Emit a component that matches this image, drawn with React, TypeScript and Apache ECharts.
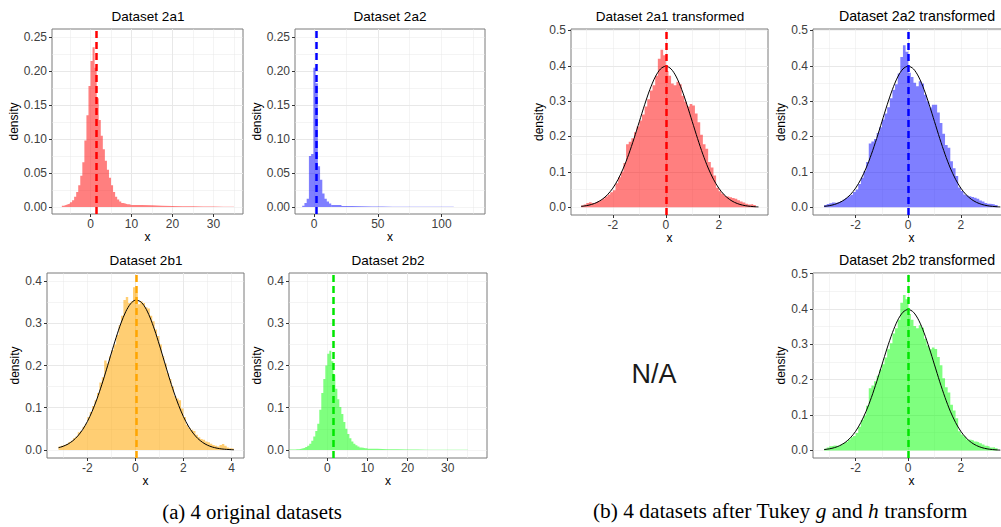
import React, { useEffect, useRef } from "react";
import * as echarts from "echarts";

const SANS = "'Liberation Sans', Arial, sans-serif";
const SERIF = "'Liberation Serif', 'Times New Roman', serif";

// ---------------- data ----------------
// Dataset 2a1 (bins of 0.5 from -7, tail bins of 2.5 from 10)
const hist2a1Start = -7;
const hist2a1Width = 0.5;
const hist2a1 = [
  0.002, 0.003, 0.004, 0.005, 0.007, 0.010, 0.015, 0.022, 0.032, 0.046,
  0.066, 0.098, 0.135, 0.178, 0.215, 0.235, 0.205, 0.160, 0.128, 0.105,
  0.085, 0.068, 0.055, 0.043, 0.032, 0.022, 0.015, 0.011, 0.008, 0.006,
  0.005, 0.004, 0.004, 0.003,
];
const tail2a1Start = 10;
const tail2a1Width = 2.5;
const tail2a1 = [0.003, 0.0025, 0.002, 0.0015, 0.0012, 0.001, 0.0008, 0.0006, 0.0005, 0.0004];
const mean2a1 = 1.37;

// Dataset 2a2
const hist2a2Start = -9.25;
const hist2a2Width = 1.75;
const hist2a2 = [0.002, 0.006, 0.012, 0.075, 0.078, 0.205, 0.182, 0.06, 0.04, 0.02, 0.012, 0.008, 0.005];
const tail2a2Start = 13.5;
const tail2a2Width = 8;
const tail2a2 = [0.003, 0.0015, 0.001, 0.0008, 0.0006, 0.0005, 0.0004, 0.0003, 0.0003, 0.0002, 0.0002, 0.0002];
const mean2a2 = 1.6;

// Dataset 2b1
const hist2b1Start = -3.2;
const hist2b1Width = 0.1;
const hist2b1 = [
  0.008, 0.010, 0.012, 0.014, 0.018, 0.022, 0.028, 0.032, 0.042, 0.045,
  0.055, 0.062, 0.078, 0.090, 0.104, 0.118, 0.135, 0.160, 0.172, 0.212,
  0.205, 0.222, 0.236, 0.250, 0.272, 0.295, 0.318, 0.355, 0.362, 0.348,
  0.352, 0.385, 0.372, 0.345, 0.352, 0.348, 0.338, 0.335, 0.318, 0.305,
  0.285, 0.270, 0.250, 0.222, 0.205, 0.182, 0.168, 0.150, 0.128, 0.122,
  0.118, 0.098, 0.078, 0.060, 0.052, 0.048, 0.045, 0.036, 0.030, 0.026,
  0.024, 0.020, 0.018, 0.015, 0.012, 0.010, 0.008, 0.012, 0.014, 0.010,
  0.006, 0.004, 0.003,
];
const mean2b1 = 0.02;
const curve2b1X = [
  -3.2, -3.0, -2.8, -2.6, -2.4, -2.2, -2.0, -1.8, -1.6, -1.4, -1.2, -1.0, -0.8, -0.6, -0.4, -0.2, 0.0,
  0.2, 0.4, 0.6, 0.8, 1.0, 1.2, 1.4, 1.6, 1.8, 2.0, 2.2, 2.4, 2.6, 2.8, 3.0, 3.2, 3.4, 3.6, 3.8, 4.0, 4.1,
];
const curve2b1Y = [
  0.0054, 0.0089, 0.0142, 0.022, 0.033, 0.0479, 0.0673, 0.0916, 0.1209, 0.1545, 0.1913, 0.2295, 0.2667,
  0.3004, 0.3277, 0.3463, 0.3546, 0.3518, 0.3382, 0.3149, 0.2841, 0.2484, 0.2104, 0.1726, 0.1372, 0.1056,
  0.0788, 0.0569, 0.0399, 0.027, 0.0178, 0.0113, 0.007, 0.0042, 0.0024, 0.0014, 0.0007, 0.0005,
];

// Dataset 2b2
const hist2b2Start = -9.5;
const hist2b2Width = 0.5;
const hist2b2 = [
  0.001, 0.001, 0.001, 0.002, 0.002, 0.003, 0.004, 0.005, 0.007, 0.010,
  0.015, 0.022, 0.032, 0.045, 0.062, 0.095, 0.135, 0.168, 0.200, 0.228,
  0.235, 0.210, 0.178, 0.145, 0.120, 0.102, 0.085, 0.066, 0.050, 0.038,
  0.028, 0.020, 0.015, 0.011, 0.008, 0.006, 0.005, 0.004, 0.004,
];
const tail2b2Start = 10;
const tail2b2Width = 2.5;
const tail2b2 = [0.003, 0.002, 0.0015, 0.0012, 0.001, 0.0008, 0.0006, 0.0005, 0.0004, 0.0003];
const mean2b2 = 1.5;

// Transformed datasets (bins of 0.1 from -3.2)
const histTStart = -3.2;
const histTWidth = 0.1;
const hist2a1T = [
  0.005, 0.008, 0.012, 0.014, 0.012, 0.013, 0.016, 0.020, 0.025, 0.030,
  0.036, 0.042, 0.048, 0.068, 0.085, 0.100, 0.125, 0.178, 0.185, 0.195,
  0.212, 0.228, 0.245, 0.262, 0.285, 0.305, 0.330, 0.345, 0.372, 0.420,
  0.445, 0.430, 0.385, 0.372, 0.350, 0.345, 0.355, 0.348, 0.315, 0.298,
  0.285, 0.292, 0.288, 0.265, 0.240, 0.205, 0.178, 0.165, 0.128, 0.112,
  0.090, 0.055, 0.045, 0.038, 0.032, 0.030, 0.028, 0.026, 0.024, 0.020,
  0.016, 0.013, 0.010, 0.008, 0.009, 0.006,
];
const hist2a2T = [
  0.006, 0.009, 0.011, 0.013, 0.012, 0.014, 0.017, 0.021, 0.026, 0.031,
  0.035, 0.043, 0.050, 0.066, 0.083, 0.102, 0.128, 0.180, 0.186, 0.193,
  0.210, 0.226, 0.248, 0.265, 0.283, 0.308, 0.332, 0.348, 0.378, 0.425,
  0.458, 0.440, 0.380, 0.368, 0.352, 0.342, 0.356, 0.350, 0.318, 0.300,
  0.282, 0.290, 0.290, 0.268, 0.238, 0.208, 0.176, 0.168, 0.130, 0.110,
  0.088, 0.056, 0.046, 0.036, 0.033, 0.031, 0.029, 0.027, 0.024, 0.019,
  0.016, 0.012, 0.010, 0.009, 0.008, 0.006,
];
const hist2b2T = [
  0.005, 0.008, 0.012, 0.014, 0.013, 0.012, 0.016, 0.021, 0.024, 0.030,
  0.037, 0.041, 0.049, 0.067, 0.086, 0.099, 0.126, 0.176, 0.184, 0.196,
  0.211, 0.229, 0.244, 0.263, 0.286, 0.303, 0.331, 0.346, 0.370, 0.418,
  0.440, 0.428, 0.386, 0.370, 0.352, 0.346, 0.354, 0.347, 0.316, 0.297,
  0.286, 0.291, 0.287, 0.264, 0.241, 0.204, 0.179, 0.164, 0.129, 0.113,
  0.091, 0.054, 0.045, 0.039, 0.031, 0.030, 0.028, 0.025, 0.023, 0.020,
  0.017, 0.013, 0.011, 0.008, 0.009, 0.006,
];
const meanT = 0;
const stdNormX = [
  -3.2, -3.0, -2.8, -2.6, -2.4, -2.2, -2.0, -1.8, -1.6, -1.4, -1.2, -1.0, -0.8, -0.6, -0.4, -0.2, 0,
  0.2, 0.4, 0.6, 0.8, 1.0, 1.2, 1.4, 1.6, 1.8, 2.0, 2.2, 2.4, 2.6, 2.8, 3.0, 3.2, 3.4, 3.5,
];
const stdNormY = [
  0.0024, 0.0044, 0.0079, 0.0136, 0.0224, 0.0355, 0.054, 0.079, 0.1109, 0.1497, 0.1942, 0.242, 0.2897,
  0.3332, 0.3683, 0.391, 0.3989, 0.391, 0.3683, 0.3332, 0.2897, 0.242, 0.1942, 0.1497, 0.1109, 0.079,
  0.054, 0.0355, 0.0224, 0.0136, 0.0079, 0.0044, 0.0024, 0.0012, 0.0009,
];

const ticksX2a = [0, 10, 20, 30];
const ticksX2a2 = [0, 50, 100];
const ticksX2b1 = [-2, 0, 2, 4];
const ticksXT = [-2, 0, 2];
const ticksY025 = [0, 0.05, 0.1, 0.15, 0.2, 0.25];
const ticksY04 = [0, 0.1, 0.2, 0.3, 0.4];
const ticksY05 = [0, 0.1, 0.2, 0.3, 0.4, 0.5];

// ---------------- layout ----------------
type Hist = { start: number; width: number; dens: number[] };
type PanelCfg = {
  title: string;
  titleX: number;
  titleY: number;
  titleSize: number;
  grid: { left: number; top: number; width: number; height: number };
  xRange: [number, number];
  xMajor: number;
  xMinor: number;
  xTicks: number[];
  yRange: [number, number];
  yMajor: number;
  yMinor: number;
  yTicks: number[];
  yDigits: number;
  yNameGap: number;
  xNameGap: number;
  hists: Hist[];
  fill: string;
  lineColor: string;
  mean: number;
  curveX?: number[];
  curveY?: number[];
};

const panels: PanelCfg[] = [
  {
    title: "Dataset 2a1", titleX: 148, titleY: 16, titleSize: 13.5,
    grid: { left: 52, top: 29, width: 191, height: 185 },
    xRange: [-9.4, 37.2], xMajor: 10, xMinor: 5, xTicks: ticksX2a,
    yRange: [-0.0103, 0.262], yMajor: 0.05, yMinor: 0.025, yTicks: ticksY025, yDigits: 2,
    yNameGap: 28, xNameGap: 16,
    hists: [
      { start: hist2a1Start, width: hist2a1Width, dens: hist2a1 },
      { start: tail2a1Start, width: tail2a1Width, dens: tail2a1 },
    ],
    fill: "rgba(255,0,0,0.5)", lineColor: "#ff0000", mean: mean2a1,
  },
  {
    title: "Dataset 2a2", titleX: 390, titleY: 16, titleSize: 13.5,
    grid: { left: 295, top: 29, width: 190, height: 185 },
    xRange: [-14.9, 134], xMajor: 50, xMinor: 25, xTicks: ticksX2a2,
    yRange: [-0.0103, 0.262], yMajor: 0.05, yMinor: 0.025, yTicks: ticksY025, yDigits: 2,
    yNameGap: 28, xNameGap: 16,
    hists: [
      { start: hist2a2Start, width: hist2a2Width, dens: hist2a2 },
      { start: tail2a2Start, width: tail2a2Width, dens: tail2a2 },
    ],
    fill: "rgba(0,0,255,0.5)", lineColor: "#0000ff", mean: mean2a2,
  },
  {
    title: "Dataset 2b1", titleX: 146, titleY: 260, titleSize: 13.5,
    grid: { left: 47, top: 273, width: 197, height: 185 },
    xRange: [-3.68, 4.52], xMajor: 2, xMinor: 1, xTicks: ticksX2b1,
    yRange: [-0.019, 0.419], yMajor: 0.1, yMinor: 0.05, yTicks: ticksY04, yDigits: 1,
    yNameGap: 22, xNameGap: 17,
    hists: [{ start: hist2b1Start, width: hist2b1Width, dens: hist2b1 }],
    fill: "rgba(255,165,0,0.55)", lineColor: "#ffa500", mean: mean2b1,
    curveX: curve2b1X, curveY: curve2b1Y,
  },
  {
    title: "Dataset 2b2", titleX: 388, titleY: 260, titleSize: 13.5,
    grid: { left: 289, top: 273, width: 198, height: 185 },
    xRange: [-9.55, 39.8], xMajor: 10, xMinor: 5, xTicks: ticksX2a,
    yRange: [-0.019, 0.419], yMajor: 0.1, yMinor: 0.05, yTicks: ticksY04, yDigits: 1,
    yNameGap: 22, xNameGap: 17,
    hists: [
      { start: hist2b2Start, width: hist2b2Width, dens: hist2b2 },
      { start: tail2b2Start, width: tail2b2Width, dens: tail2b2 },
    ],
    fill: "rgba(0,255,0,0.5)", lineColor: "#00e600", mean: mean2b2,
  },
  {
    title: "Dataset 2a1 transformed", titleX: 670, titleY: 16, titleSize: 13.5,
    grid: { left: 571, top: 29, width: 197, height: 186 },
    xRange: [-3.58, 3.86], xMajor: 2, xMinor: 1, xTicks: ticksXT,
    yRange: [-0.022, 0.504], yMajor: 0.1, yMinor: 0.05, yTicks: ticksY05, yDigits: 1,
    yNameGap: 22, xNameGap: 16,
    hists: [{ start: histTStart, width: histTWidth, dens: hist2a1T }],
    fill: "rgba(255,0,0,0.5)", lineColor: "#ff0000", mean: meanT,
    curveX: stdNormX, curveY: stdNormY,
  },
  {
    title: "Dataset 2a2 transformed", titleX: 917, titleY: 16, titleSize: 14.2,
    grid: { left: 813, top: 29, width: 197, height: 186 },
    xRange: [-3.62, 3.87], xMajor: 2, xMinor: 1, xTicks: ticksXT,
    yRange: [-0.022, 0.504], yMajor: 0.1, yMinor: 0.05, yTicks: ticksY05, yDigits: 1,
    yNameGap: 21, xNameGap: 16,
    hists: [{ start: histTStart, width: histTWidth, dens: hist2a2T }],
    fill: "rgba(0,0,255,0.5)", lineColor: "#0000ff", mean: meanT,
    curveX: stdNormX, curveY: stdNormY,
  },
  {
    title: "Dataset 2b2 transformed", titleX: 917, titleY: 260, titleSize: 14.2,
    grid: { left: 813, top: 273, width: 197, height: 185 },
    xRange: [-3.62, 3.87], xMajor: 2, xMinor: 1, xTicks: ticksXT,
    yRange: [-0.0215, 0.502], yMajor: 0.1, yMinor: 0.05, yTicks: ticksY05, yDigits: 1,
    yNameGap: 21, xNameGap: 16,
    hists: [{ start: histTStart, width: histTWidth, dens: hist2b2T }],
    fill: "rgba(0,255,0,0.5)", lineColor: "#00e600", mean: meanT,
    curveX: stdNormX, curveY: stdNormY,
  },
];

function histPoints(h: Hist): number[][] {
  const pts: number[][] = h.dens.map((d, i) => [h.start + i * h.width, d]);
  pts.push([h.start + h.dens.length * h.width, h.dens[h.dens.length - 1]]);
  return pts;
}

const GRID_COLOR = "#e8e8e8";
const TICK_TEXT = { fontFamily: SANS, fontSize: 12, color: "#404040" };

function buildOption(): any {
  const grid: any[] = [];
  const xAxis: any[] = [];
  const yAxis: any[] = [];
  const series: any[] = [];
  const graphic: any[] = [];

  panels.forEach((p, i) => {
    grid.push({
      ...p.grid,
      show: true,
      backgroundColor: "#ffffff",
      borderColor: "#7a7a7a",
      borderWidth: 1,
      containLabel: false,
      outerBoundsMode: "none",
    });
    xAxis.push({
      type: "value", gridIndex: i, position: "bottom",
      min: p.xRange[0], max: p.xRange[1], minInterval: p.xMajor, maxInterval: p.xMajor,
      name: "x", nameLocation: "middle", nameGap: p.xNameGap,
      nameTextStyle: { fontFamily: SANS, fontSize: 12, color: "#000" },
      axisLine: { show: false, onZero: false },
      axisTick: { show: true, length: 3, lineStyle: { color: "#333", width: 1 }, customValues: p.xTicks },
      axisLabel: { ...TICK_TEXT, margin: 4, customValues: p.xTicks, formatter: (v: number) => String(v) },
      splitLine: { show: true, showMinLine: false, showMaxLine: false, lineStyle: { color: GRID_COLOR, width: 1 } },
    });
    xAxis.push({
      type: "value", gridIndex: i, position: "top",
      min: p.xRange[0], max: p.xRange[1], minInterval: p.xMinor, maxInterval: p.xMinor,
      axisLine: { show: false, onZero: false }, axisTick: { show: false }, axisLabel: { show: false },
      splitLine: { show: true, showMinLine: false, showMaxLine: false, lineStyle: { color: GRID_COLOR, width: 0.5 } },
    });
    yAxis.push({
      type: "value", gridIndex: i, position: "left",
      min: p.yRange[0], max: p.yRange[1], minInterval: p.yMajor, maxInterval: p.yMajor,
      name: "density", nameLocation: "middle", nameGap: p.yNameGap + 3,
      nameTextStyle: { fontFamily: SANS, fontSize: 12, color: "#000" },
      axisLine: { show: false, onZero: false },
      axisTick: { show: true, length: 3, lineStyle: { color: "#333", width: 1 }, customValues: p.yTicks },
      axisLabel: { ...TICK_TEXT, margin: 5, customValues: p.yTicks, formatter: (v: number) => v.toFixed(p.yDigits) },
      splitLine: { show: true, showMinLine: false, showMaxLine: false, lineStyle: { color: GRID_COLOR, width: 1 } },
    });
    yAxis.push({
      type: "value", gridIndex: i, position: "right",
      min: p.yRange[0], max: p.yRange[1], minInterval: p.yMinor, maxInterval: p.yMinor,
      axisLine: { show: false, onZero: false }, axisTick: { show: false }, axisLabel: { show: false },
      splitLine: { show: true, showMinLine: false, showMaxLine: false, lineStyle: { color: GRID_COLOR, width: 0.5 } },
    });

    p.hists.forEach((h, k) => {
      const s: any = {
        type: "line", name: p.title, xAxisIndex: 2 * i, yAxisIndex: 2 * i,
        step: "end", symbol: "none", silent: true, z: 2,
        data: histPoints(h),
        lineStyle: { width: 0, opacity: 0 },
        areaStyle: { color: p.fill, opacity: 1 },
      };
      if (k === 0) {
        s.markLine = {
          silent: true, symbol: "none", label: { show: false },
          lineStyle: { color: p.lineColor, width: 2.5, type: [7, 4] },
          data: [{ xAxis: p.mean }],
        };
      }
      series.push(s);
    });
    if (p.curveX && p.curveY) {
      const cy = p.curveY;
      series.push({
        type: "line", name: p.title + " normal", xAxisIndex: 2 * i, yAxisIndex: 2 * i,
        symbol: "none", smooth: 0.3, silent: true, z: 3,
        data: p.curveX.map((x, j) => [x, cy[j]]),
        lineStyle: { color: "#000", width: 1 },
      });
    }

    graphic.push({
      type: "text", x: p.titleX, y: p.titleY,
      style: {
        text: p.title, fontFamily: SANS, fontSize: p.titleSize, fill: "#000",
        align: "center", verticalAlign: "middle", textAlign: "center", textVerticalAlign: "middle",
      },
    });
  });

  graphic.push({
    type: "text", x: 654, y: 374,
    style: {
      text: "N/A", fontFamily: SANS, fontSize: 27, fill: "#1a1a1a",
      align: "center", verticalAlign: "middle", textAlign: "center", textVerticalAlign: "middle",
    },
  });
  graphic.push({
    type: "text", x: 252, y: 511,
    style: {
      text: "(a) 4 original datasets", fontFamily: SERIF, fontSize: 20.8, fill: "#000",
      align: "center", verticalAlign: "middle", textAlign: "center", textVerticalAlign: "middle",
    },
  });
  graphic.push({
    type: "text", x: 780, y: 511,
    style: {
      text: "(b) 4 datasets after Tukey {i|g} and {i|h} transform", fontFamily: SERIF, fontSize: 21.4, fill: "#000",
      align: "center", verticalAlign: "middle", textAlign: "center", textVerticalAlign: "middle",
      rich: { i: { fontFamily: SERIF, fontSize: 21.4, fontStyle: "italic", fill: "#000" } },
    },
  });

  return {
    animation: false,
    backgroundColor: "#ffffff",
    textStyle: { fontFamily: SANS },
    grid, xAxis, yAxis, series, graphic,
  };
}

export default function App() {
  const ref = useRef<HTMLDivElement>(null);
  useEffect(() => {
    if (!ref.current) return;
    const chart = echarts.init(ref.current, null, { renderer: "svg" });
    chart.setOption(buildOption());
    return () => chart.dispose();
  }, []);
  return (
    <div
      ref={ref}
      style={{ position: "absolute", left: 0, top: 0, width: 1001, height: 527, background: "#fff" }}
    />
  );
}
